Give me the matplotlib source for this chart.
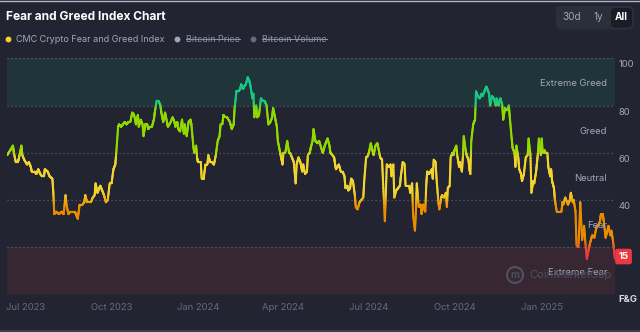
import matplotlib
matplotlib.use("Agg")
import matplotlib.pyplot as plt
import matplotlib.dates as mdates
import matplotlib.transforms as mtransforms
from matplotlib.collections import LineCollection
from matplotlib.colors import LinearSegmentedColormap
from matplotlib.patches import FancyBboxPatch, Circle
from matplotlib.lines import Line2D
import numpy as np

plt.rcParams['font.family'] = ['Inter', 'DejaVu Sans']

# ---------------- data ----------------
start_date = "2023-06-12"
days = [
    0, 3, 6, 7, 9, 11, 12, 13, 15, 16, 18, 21, 23, 25, 26, 29, 31, 33, 35, 37, 39, 40, 43, 45, 48, 49, 50, 52, 55, 58,
    60, 62, 63, 65, 67, 70, 72, 73, 75, 76, 77, 80, 82, 83, 85, 87, 89, 91, 93, 94, 96, 98, 99, 101, 103, 105, 107, 109,
    111, 113, 115, 116, 118, 119, 121, 123, 125, 127, 129, 131, 133, 135, 137, 139, 140, 142, 144, 145, 147, 149, 150,
    152, 154, 156, 157, 159, 161, 163, 164, 166, 168, 170, 171, 174, 176, 178, 179, 181, 182, 184, 186, 188, 189, 191,
    193, 195, 196, 198, 199, 201, 202, 203, 206, 207, 209, 211, 213, 214, 216, 218, 220,
    222, 224, 226, 227, 229, 230, 232, 234, 237, 239, 241, 242, 244, 246, 248, 249, 251, 252, 254, 256, 258, 259, 261,
    262, 263, 265, 266, 268, 270, 272, 274, 276, 278, 280, 282, 283, 285, 287, 288, 290, 291, 293, 294, 296, 298, 300,
    301, 303, 305, 307, 308, 310, 312, 314, 315, 317, 319, 320, 322, 323, 325, 326, 328, 330, 332,
    335, 336, 338, 340, 341, 343, 344, 346, 348, 349, 350, 353, 355, 357, 359, 360, 362, 363, 365, 366, 368, 370, 371,
    373, 375, 377, 379, 380, 382, 383, 385, 387, 388, 390, 392, 394, 395, 397, 399, 400, 402, 403, 404, 406, 408, 409,
    411, 412, 414, 416, 418, 419, 421, 423, 424, 426, 428, 429, 431, 432, 434, 435, 436, 438, 440, 441, 442, 443, 445,
    446, 447, 449, 452, 453, 454, 456, 457, 459, 460, 462, 463, 465, 467, 468, 469, 471, 472, 474, 475, 476, 478, 479,
    481, 482, 484, 485, 486, 488, 489, 491, 492, 493, 494, 496, 498, 499, 501, 503, 505, 506, 508, 510, 511, 513, 514,
    516, 518, 520, 521, 523, 524, 525, 527, 528, 530, 531, 532, 534, 535, 537, 538, 540, 541, 542, 544, 545, 547, 548,
    550, 552, 554, 555,
    557, 558, 560, 561, 563, 564, 565, 566, 568, 569, 570, 572, 573, 575, 576, 578, 579, 580, 582, 583, 585, 587, 590,
    591, 592, 594, 596, 597, 599, 600, 602, 603, 605, 606, 608, 609, 610, 612, 614, 615, 617, 619, 620, 622, 623, 625,
    627, 628, 629, 631, 632, 634, 635, 637, 639, 640, 642, 643, 644, 646, 647,
]
values = [
    59, 61, 63, 60, 56, 56, 57, 59, 63, 59, 57, 55, 56, 54, 52, 52, 51, 53, 51, 50, 50, 53, 52, 50, 49, 43, 34, 35, 34, 35,
    34, 42, 38, 34, 35, 35, 35, 34, 32, 35, 38, 38, 39, 42, 39, 39, 39, 41, 42, 47, 43, 45, 46, 44, 42, 39, 40, 47,
    47, 53, 55, 60, 71, 72, 71, 72, 73, 72, 73, 73, 77, 76, 72, 76, 71, 74, 72, 67, 72, 72, 70,
    71, 71, 74, 77, 82, 82, 80, 77, 73, 77, 73, 71, 73, 75, 73, 71, 73, 70, 69, 74, 68, 72, 67,
    73, 74, 72, 63, 60, 63, 58, 56, 56, 49, 49, 55, 55, 59, 56, 56, 55,
    59, 65, 67, 72, 72, 76, 75, 75, 73, 70, 72, 79, 86, 86, 87, 89, 87, 88, 89, 92, 90, 88, 83,
    85, 75, 80, 75, 76, 83, 82, 82, 80, 72, 73, 75, 79, 75, 71, 65, 61, 59, 55, 60, 60, 65, 60,
    60, 58, 56, 47, 55, 58, 56, 52, 55, 51, 52, 59, 60, 62, 65, 70, 65, 64, 65,
    61, 60, 63, 65, 66, 63, 60, 59, 58, 55, 53, 55, 52, 52, 50, 45, 46, 44, 45, 49, 48, 42, 37,
    36, 39, 40, 41, 48, 58, 58, 60, 64, 62, 59, 63, 64, 62, 58, 57, 48, 31, 43, 55, 54, 55, 50,
    55, 41, 44, 45, 46, 50, 56, 55, 46, 46, 46, 43, 47, 34, 27, 35, 47, 37, 38, 34, 36, 38, 35,
    46, 52, 51, 53, 49, 57, 56, 49, 39, 36, 41, 42, 41, 43, 37, 45, 46, 58, 60, 59, 61, 63, 59,
    54, 56, 52, 58, 67, 61, 59, 57, 53, 51, 65, 72, 74, 86, 84, 83, 85, 84, 86, 88, 87, 85, 80,
    84, 83, 80, 83, 80, 82, 83, 80, 74, 79, 78, 78, 80, 75, 66, 62, 60, 54, 63, 58, 53, 51, 48,
    51, 58, 59, 66,
    59, 43, 48, 47, 52, 56, 60, 66, 59, 66, 60, 61, 60, 60, 54, 50, 53, 48, 45, 40, 35, 35, 35,
    39, 38, 41, 39, 38, 40, 43, 39, 40, 35, 21, 20, 28, 39, 23, 29, 24, 15, 19, 21, 24, 25, 24,
    28, 29, 29, 31, 34, 34, 31, 24, 27, 29, 25, 27, 25, 19, 15,
]

zone_names = ["Extreme Fear", "Fear", "Neutral", "Greed", "Extreme Greed"]
zone_bounds = [0, 20, 40, 60, 80, 100]
ytick_values = [40, 60, 80, 100]
xtick_dates = ["2023-07-01", "2023-10-01", "2024-01-01", "2024-04-01",
               "2024-07-01", "2024-10-01", "2025-01-01"]
xtick_labels = ["Jul 2023", "Oct 2023", "Jan 2024", "Apr 2024",
                "Jul 2024", "Oct 2024", "Jan 2025"]
legend_labels = ["CMC Crypto Fear and Greed Index", "Bitcoin Price", "Bitcoin Volume"]
range_buttons = ["30d", "1y", "All"]

# ---------------- style ----------------
BG = "#222531"
GRID = "#5a5f70"
TXT = "#a1a7bb"
TXT_DIM = "#646b80"

W, H = 640, 332
fig = plt.figure(figsize=(W / 100, H / 100), dpi=100, facecolor=BG)


def fx(px):
    return px / W


def fy(py):
    return 1 - py / H


ax = fig.add_axes([fx(7.3), fy(294.3), fx(615) - fx(7.3), fy(58.3) - fy(294.3)])
ax.set_facecolor(BG)
for s in ax.spines.values():
    s.set_visible(False)

d0 = mdates.datestr2num(start_date)
x = d0 + np.asarray(days, dtype=float)
y = np.asarray(values, dtype=float)

# zone bands
ax.axhspan(80, 100, color="#16c784", alpha=0.10, lw=0, zorder=0)
ax.axhspan(0, 20, color="#ea3943", alpha=0.10, lw=0, zorder=0)
for b in zone_bounds:
    ax.axhline(b, color=GRID, lw=0.9, ls=(0, (1, 2.2)), zorder=1)

# gradient line (segments subdivided only for colour rendering)
cmap = LinearSegmentedColormap.from_list("fg", [
    (0.00, "#ea3943"), (0.18, "#ea3943"), (0.23, "#ea8c00"), (0.37, "#ea8c00"),
    (0.43, "#f3d42f"), (0.57, "#f3d42f"), (0.62, "#93d900"), (0.78, "#93d900"),
    (0.82, "#16c784"), (1.00, "#16c784")])
n_sub = 12
xs, ys = [], []
for i in range(len(x) - 1):
    t = np.linspace(0, 1, n_sub, endpoint=False)
    xs.append(x[i] + (x[i + 1] - x[i]) * t)
    ys.append(y[i] + (y[i + 1] - y[i]) * t)
xs.append([x[-1]])
ys.append([y[-1]])
xs = np.concatenate(xs)
ys = np.concatenate(ys)
pts = np.column_stack([xs, ys]).reshape(-1, 1, 2)
segs = np.concatenate([pts[:-1], pts[1:]], axis=1)
lc = LineCollection(segs, cmap=cmap, norm=plt.Normalize(0, 100), lw=1.5,
                    capstyle="round", joinstyle="round", zorder=3)
lc.set_array((ys[:-1] + ys[1:]) / 2)
ax.add_collection(lc)

ax.set_xlim(x[0], x[-1])
ax.set_ylim(0, 100)

# axes ticks
ax.set_xticks([mdates.datestr2num(d) for d in xtick_dates])
ax.set_xticklabels(xtick_labels)
ax.tick_params(axis="x", length=0, pad=6, labelsize=6.8, labelcolor=TXT_DIM)
ax.yaxis.tick_right()
ax.set_yticks(ytick_values)
ax.set_yticklabels([str(v) for v in ytick_values])
ax.tick_params(axis="y", length=0, pad=2.5, labelsize=6.8, labelcolor=TXT)
shift_down = mtransforms.ScaledTranslation(0, -4 / 72, fig.dpi_scale_trans)
for lab in ax.get_yticklabels():
    lab.set_transform(lab.get_transform() + shift_down)

# zone labels
bt = mtransforms.blended_transform_factory(fig.transFigure, ax.transData)
zone_shift = mtransforms.ScaledTranslation(0, -1.5 / 72, fig.dpi_scale_trans)
for name, lo, hi in zip(zone_names, zone_bounds[:-1], zone_bounds[1:]):
    ax.text(fx(607), (lo + hi) / 2, name, transform=bt + zone_shift,
            ha="right", va="center", fontsize=6.8, color=TXT, zorder=4)

fig.text(fx(618), fy(299), "F&G", ha="left", va="center", fontsize=6.8,
         color="#d5dae6", fontweight="bold")

# watermark
wm_c = "#4c5060"
circ = Circle((515 / 100, (H - 275) / 100), 0.08, transform=fig.dpi_scale_trans,
              fill=False, ec=wm_c, lw=1.6, zorder=2)
fig.add_artist(circ)
fig.text(fx(515), fy(275.5), "m", ha="center", va="center", fontsize=7,
         color=wm_c, fontweight="bold")
fig.text(fx(529), fy(275), "CoinMarketCap", ha="left", va="center", fontsize=8.0,
         color=wm_c, zorder=2)

# last value badge
fig.text(fx(623.5), values[-1] + 1, str(values[-1]), transform=bt, ha="center", va="center",
         fontsize=6.8, fontweight="bold", color="white",
         bbox=dict(boxstyle="round,pad=0.35,rounding_size=0.25", fc="#ea3943", ec="none"))

# title
fig.text(fx(6), fy(17.5), "Fear and Greed Index Chart", ha="left", va="center",
         fontsize=8.6, fontweight="bold", color="white")

# legend row
leg_y = fy(39)
dot_x = [7.5, 177, 253]
dot_c = ["#f3d42f", "#a1a7bb", "#646b80"]
txt_x = [16, 186, 262]
txt_c = [TXT, "#8d93a6", "#8d93a6"]
legend_texts = []
for lab, dx, dc, tx, tc in zip(legend_labels, dot_x, dot_c, txt_x, txt_c):
    fig.add_artist(Line2D([fx(dx)], [leg_y], marker="o", ms=4.2, color=dc, mec="none",
                          transform=fig.transFigure))
    legend_texts.append(fig.text(fx(tx), leg_y, lab, ha="left", va="center",
                                 fontsize=6.5, color=tc))

# range buttons
grp = FancyBboxPatch((5.56, (H - 29.5) / 100), 0.78, 0.235,
                     boxstyle="round,pad=0,rounding_size=0.05", transform=fig.dpi_scale_trans,
                     fc="#2b2e3b", ec="none")
fig.add_artist(grp)
sel = FancyBboxPatch((6.11, (H - 27.5) / 100), 0.21, 0.195,
                     boxstyle="round,pad=0,rounding_size=0.04", transform=fig.dpi_scale_trans,
                     fc="#1a1c26", ec="none")
fig.add_artist(sel)
for lab, bx in zip(range_buttons, [572, 598, 621.5]):
    fig.text(fx(bx), fy(17.5), lab, ha="center", va="center", fontsize=7.2,
             color="white" if lab == "All" else TXT,
             fontweight="bold" if lab == "All" else "normal")

# thin frame lines top / bottom
fig.add_artist(Line2D([0, 1], [fy(0.5), fy(0.5)], color="#b4b7c0", lw=1.0, transform=fig.transFigure))
fig.add_artist(Line2D([0, 1], [fy(331), fy(331)], color="#3c3f4d", lw=1.5, transform=fig.transFigure))

# strikethrough on hidden series labels
fig.canvas.draw()
r = fig.canvas.get_renderer()
inv = fig.transFigure.inverted()
for t in legend_texts[1:]:
    bb = t.get_window_extent(r)
    (x0, y0), (x1, y1) = inv.transform([(bb.x0, bb.y0), (bb.x1, bb.y1)])
    ym = y0 + (y1 - y0) * 0.5
    fig.add_artist(Line2D([x0, x1], [ym, ym], color="#8d93a6", lw=0.7, transform=fig.transFigure))

fig.savefig("out.png", dpi=100, facecolor=BG)
